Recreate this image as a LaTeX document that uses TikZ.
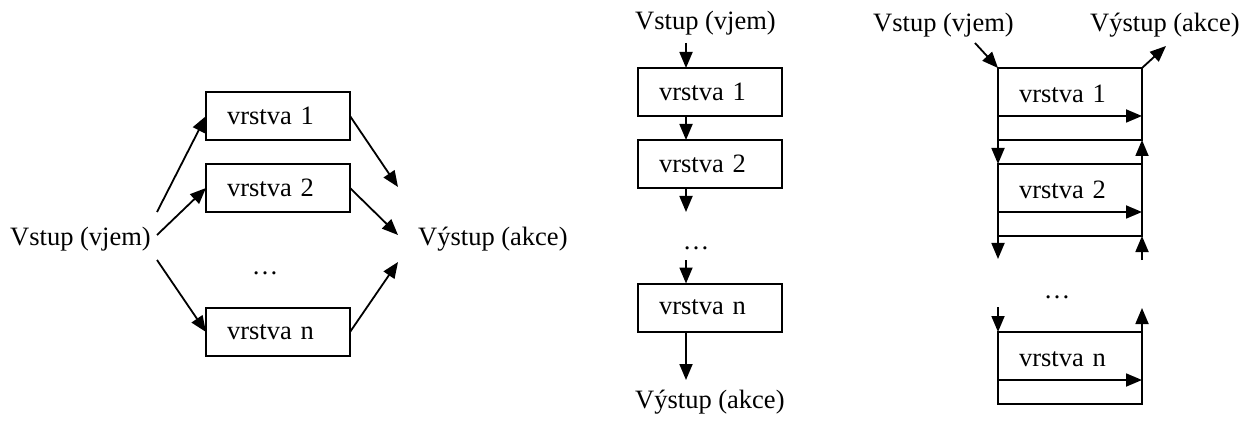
\documentclass[tikz,border=0pt]{standalone}
\usepackage{fontspec}
\setmainfont{Liberation Serif}
\usetikzlibrary{arrows.meta,calc}
\begin{document}
\begin{tikzpicture}[x=1pt,y=-1pt,
  every node/.style={font=\fontsize{26.5}{30}\selectfont},
  txt/.style={inner sep=0pt, anchor=base west},
  dots/.style={inner sep=0pt, anchor=base},
  layer/.style={draw, line width=2pt, rectangle, outer sep=0pt,
    minimum width=144pt, minimum height=48pt, inner xsep=21pt,
    text width=102pt, align=left},
  tlayer/.style={layer, minimum height=72pt, text height=18pt, text depth=21pt},
  arr/.style={line width=1.8pt, -{Triangle[length=16pt,width=13pt]}}]
\useasboundingbox (0,0) rectangle (1253,422);

% ---------- left: parallel ----------
\node[txt] (lin) at (10,246) {Vstup (vjem)};
\node[txt] (lout) at (418,246) {Výstup (akce)};
\node[layer] (l1) at (278,116) {vrstva 1};
\node[layer] (l2) at (278,188) {vrstva 2};
\node[dots] (ld) at (265,274) {…};
\node[layer] (ln) at (278,332) {vrstva n};
\coordinate (ls1) at (157,212);
\coordinate (ls2) at (157,235);
\coordinate (ls3) at (157,260);
\coordinate (le1) at (398,187);
\coordinate (le2) at (398,235);
\coordinate (le3) at (398,262);
\draw[arr] (ls1) -- (l1.west);
\draw[arr] (ls2) -- (l2.west);
\draw[arr] (ls3) -- (ln.west);
\draw[arr] (l1.east) -- (le1);
\draw[arr] (l2.east) -- (le2);
\draw[arr] (ln.east) -- (le3);

% ---------- middle: serial ----------
\node[txt] (min) at (635,30) {Vstup (vjem)};
\node[txt] (mout) at (635,408) {Výstup (akce)};
\node[layer] (m1) at (710,92) {vrstva 1};
\node[layer] (m2) at (710,164) {vrstva 2};
\node[dots] (md) at (696,250) {…};
\node[layer] (mn) at (710,307.5) {vrstva n};
\coordinate (mt) at (686,43);
\coordinate (m2e) at (686,212);
\coordinate (mns) at (686,260);
\coordinate (mbe) at (686,380);
\draw[arr] (mt) -- (mt |- m1.north);
\draw[arr] (mt |- m1.south) -- (mt |- m2.north);
\draw[arr] (mt |- m2.south) -- (m2e);
\draw[arr] (mns) -- (mt |- mn.north);
\draw[arr] (mt |- mn.south) -- (mbe);

% ---------- right: layered up/down ----------
\node[txt] (rin) at (873,32) {Vstup (vjem)};
\node[txt] (rout) at (1090,32) {Výstup (akce)};
\node[tlayer] (r1) at (1070,104) {vrstva 1};
\node[tlayer] (r2) at (1070,200) {vrstva 2};
\node[dots] (rd) at (1057,298) {…};
\node[tlayer] (rn) at (1070,368) {vrstva n};
\coordinate (ri) at (975,43);
\coordinate (ro) at (1166,46);
\draw[arr] (ri) -- (r1.north west);
\draw[arr] (r1.north east) -- (ro);
\draw[arr] ($(r1.north west)+(0,48)$) -- ($(r1.north east)+(0,48)$);
\draw[arr] ($(r2.north west)+(0,48)$) -- ($(r2.north east)+(0,48)$);
\draw[arr] ($(rn.north west)+(0,48)$) -- ($(rn.north east)+(0,48)$);
\draw[arr] (r1.south west) -- (r2.north west);
\draw[arr] (r2.north east) -- (r1.south east);
\coordinate (r2dl) at (998,259);
\coordinate (r2ur) at (1142,260);
\coordinate (rndl) at (998,307);
\coordinate (rnur) at (1142,308);
\draw[arr] (r2.south west) -- (r2dl);
\draw[arr] (r2ur) -- (r2.south east);
\draw[arr] (rndl) -- (rn.north west);
\draw[arr] (rn.north east) -- (rnur);
\end{tikzpicture}
\end{document}
